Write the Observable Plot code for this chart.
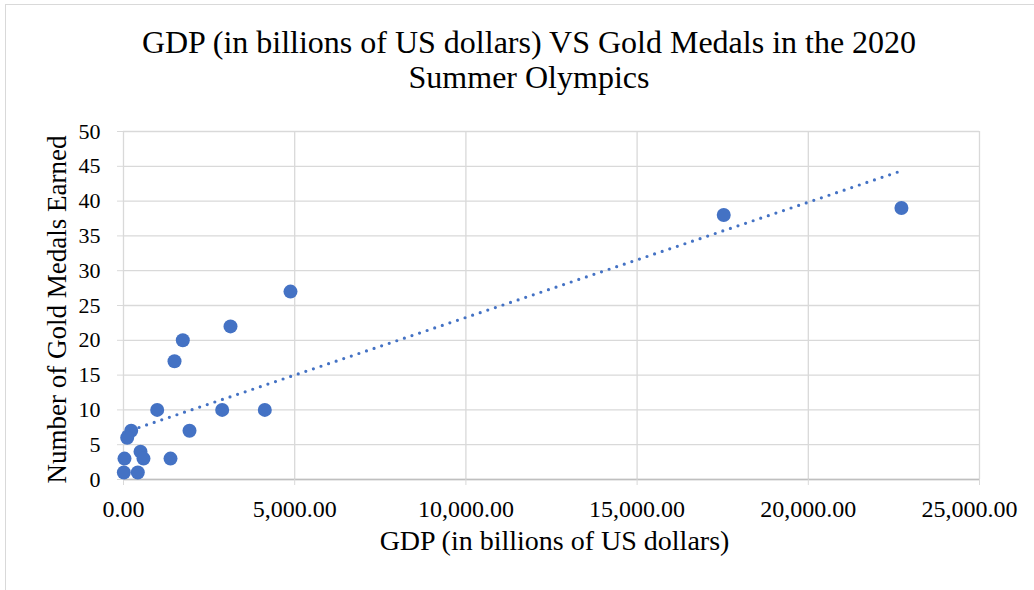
<!DOCTYPE html>
<html>
<head>
<meta charset="utf-8">
<script src="https://cdn.jsdelivr.net/npm/d3@7"></script>
<script src="https://cdn.jsdelivr.net/npm/@observablehq/plot@0.6"></script>
<style>
  html, body { margin: 0; padding: 0; background: #fff; }
  body { width: 1034px; height: 590px; position: relative; overflow: hidden; font-family: "Liberation Serif", "Times New Roman", serif; }
  #frame { position: absolute; left: 5px; top: 4px; width: 1040px; height: 600px; border-top: 1.5px solid #d9d9d9; border-left: 1.5px solid #d9d9d9; }
  #title { position: absolute; left: 0; top: 25px; width: 1058px; text-align: center; font-size: 32px; line-height: 35px; color: #000; }
  #chart { position: absolute; left: 0; top: 110px; }
</style>
</head>
<body>
<div id="frame"></div>
<div id="title">GDP (in billions of US dollars) VS Gold Medals in the 2020<br>Summer Olympics</div>
<div id="chart"></div>
<script>
// GDP in billions of US dollars
const gdp = [22720, 17530, 4877, 3125, 1732, 1490, 984, 2882, 4127, 1928, 1373, 225, 108, 29, 497, 584, 10, 418];
// Gold medals earned
const golds = [39, 38, 27, 22, 20, 17, 10, 10, 10, 7, 3, 7, 6, 3, 4, 3, 1, 1];
const xTicks = [0, 5000, 10000, 15000, 20000, 25000];
const yTicks = [0, 5, 10, 15, 20, 25, 30, 35, 40, 45, 50];
const xTitle = ["GDP (in billions of US dollars)"];
const yTitle = ["Number of Gold Medals Earned"];

const data = gdp.map((g, i) => ({gdp: g, gold: golds[i]}));
const blue = "#4472C4";
const grid = "#d9d9d9";
const fmt = d3.format(",.2f");
const lastTick = xTicks[xTicks.length - 1];

const chart = Plot.plot({
  width: 1034,
  height: 480,
  marginTop: 21,
  marginBottom: 111,
  marginLeft: 123,
  marginRight: 55,
  style: {fontFamily: "'Liberation Serif', 'Times New Roman', serif", background: "transparent", overflow: "visible"},
  x: {domain: [0, 25000]},
  y: {domain: [0, 50]},
  marks: [
    Plot.gridX(xTicks, {stroke: grid, strokeOpacity: 1, strokeWidth: 1.3}),
    Plot.gridY(yTicks, {stroke: grid, strokeOpacity: 1, strokeWidth: 1.3}),
    Plot.ruleY([0], {stroke: "#bfbfbf", strokeWidth: 1.3}),
    Plot.axisX(xTicks, {tickSize: 6, tickPadding: 14, stroke: grid, fill: "#000", fontSize: 24, tickFormat: (d) => d === lastTick ? "" : fmt(d), label: null}),
    Plot.axisX([lastTick], {tickSize: 0, tickPadding: 20, dx: -10, fill: "#000", fontSize: 24, tickFormat: fmt, label: null}),
    Plot.axisY(yTicks, {tickSize: 6, tickPadding: 17, stroke: grid, fill: "#000", fontSize: 22, label: null}),
    Plot.dot(data, {x: "gdp", y: "gold", r: 7, fill: blue, stroke: null}),
    Plot.linearRegressionY(data, {x: "gdp", y: "gold", ci: 0, stroke: blue, strokeWidth: 3.2, strokeDasharray: "0 8", strokeLinecap: "round"}),
    Plot.text(xTitle, {frameAnchor: "bottom", dx: 3, dy: 70, fontSize: 28, fill: "#000"}),
    Plot.text(yTitle, {frameAnchor: "left", textAnchor: "middle", dx: -66, dy: 4, rotate: -90, fontSize: 27, fill: "#000"})
  ]
});
document.getElementById("chart").appendChild(chart);
</script>
</body>
</html>
